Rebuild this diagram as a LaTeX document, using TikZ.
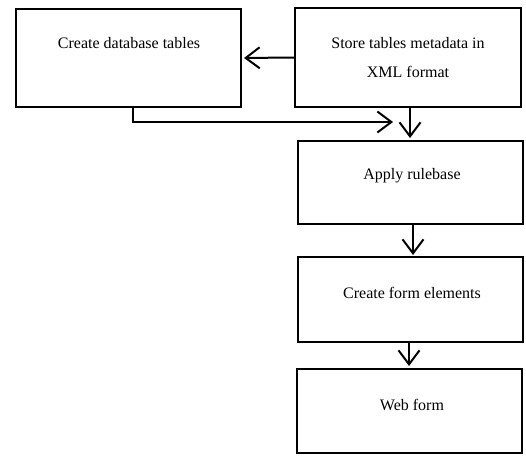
\documentclass[tikz,border=0pt]{standalone}
\usepackage{fontspec}
\setmainfont{Liberation Serif}
\usetikzlibrary{arrows.meta}
\begin{document}
\begin{tikzpicture}[x=1pt,y=-1pt,
  box/.style={draw,line width=2.6pt,rectangle,inner sep=0pt,outer sep=0pt},
  conn/.style={line width=2pt,-{Straight Barb[length=14pt,width=21pt,line width=2pt]}},
  lbl/.style={font=\fontsize{16}{19}\selectfont,inner sep=0pt}]
\useasboundingbox (0,0) rectangle (526,455);
% boxes
\node[box,minimum width=225pt,minimum height=98pt] (b1) at (128.5,58) {};
\node[box,minimum width=226pt,minimum height=99pt] (b2) at (408,57.5) {};
\node[box,minimum width=225pt,minimum height=83pt] (b3) at (410.5,182.5) {};
\node[box,minimum width=225pt,minimum height=85pt] (b4) at (410.5,299.5) {};
\node[box,minimum width=225pt,minimum height=84pt] (b5) at (409.5,411) {};
\node[lbl] (t1) at (129,43) {Create database tables};
\node[lbl] (t2a) at (408,43) {Store tables metadata in};
\node[lbl] (t2b) at (408,72) {XML format};
\node[lbl] (t3) at (412,176) {Apply rulebase};
\node[lbl] (t4) at (412,293) {Create form elements};
\node[lbl] (t5) at (412,405) {Web form};
% connectors
\draw[conn,shorten >=3pt] (b2.west) -- (b1.east);
\coordinate (j) at (393,122);
\draw[conn] ([xshift=4.5pt]b1.south) |- (j);
\draw[conn,shorten >=3pt] ([xshift=2pt]b2.south) -- ([xshift=-0.5pt]b3.north);
\draw[conn,shorten >=2pt] ([xshift=2.5pt]b3.south) -- ([xshift=2.5pt]b4.north);
\draw[conn,shorten >=3pt] ([xshift=-1.5pt]b4.south) -- ([xshift=-0.5pt]b5.north);
\end{tikzpicture}
\end{document}
